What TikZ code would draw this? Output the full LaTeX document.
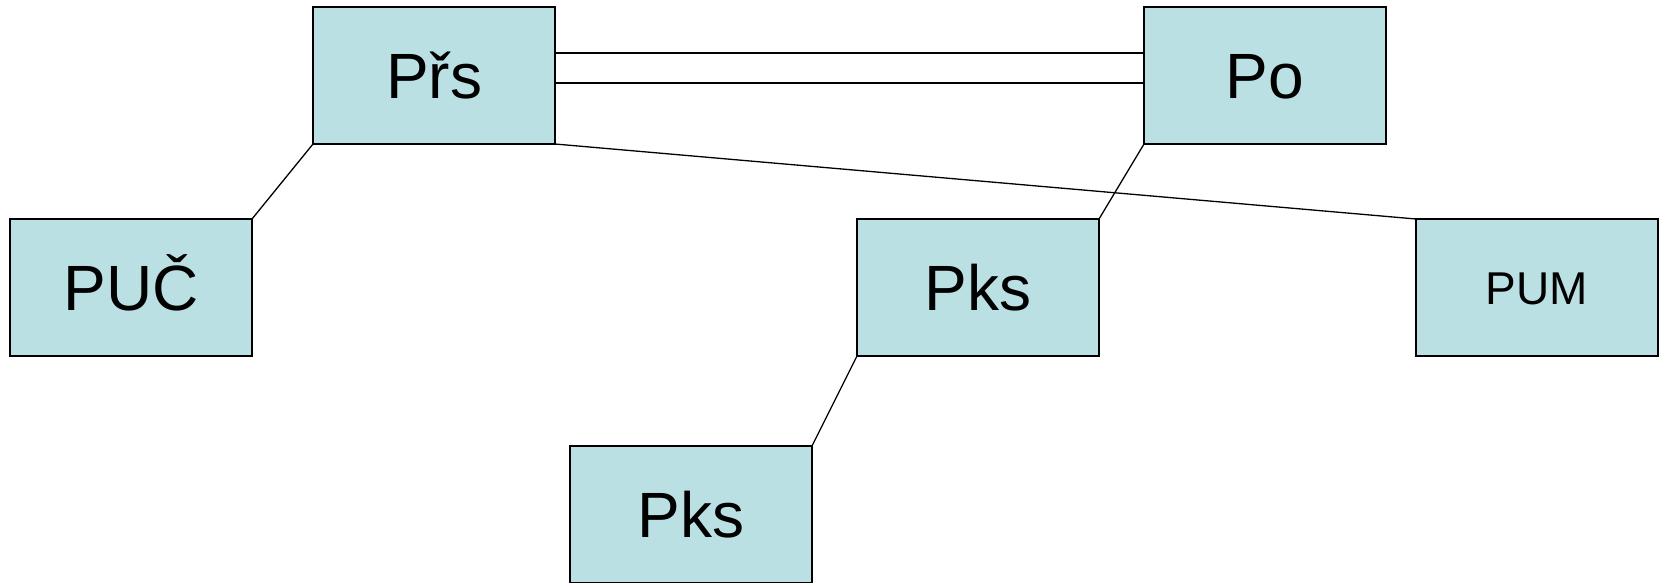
\documentclass[tikz,border=0pt]{standalone}
\usepackage{fontspec}
\setmainfont{Liberation Sans}
\definecolor{boxfill}{RGB}{187,224,227}
\begin{document}
\begin{tikzpicture}[x=1pt,y=-1pt,
  box/.style={draw=black, line width=1.6pt, fill=boxfill, rectangle, anchor=north west,
    minimum width=242pt, minimum height=137pt, inner sep=0pt, outer sep=0pt,
    text height=46pt, text depth=0pt,
    font=\fontsize{64}{64}\selectfont},
  smallbox/.style={box, text height=33pt, font=\fontsize{46}{46}\selectfont},
  link/.style={draw=black, line width=1.3pt}]
\useasboundingbox (0,0) rectangle (1665,582);
\fill[white] (0,0) rectangle (1665,582);
\node[box] (prs) at (313,7) {Přs};
\node[box] (po) at (1144,7) {Po};
\node[box] (puc) at (10,219) {PUČ};
\node[box] (pks1) at (857,219) {Pks};
\node[smallbox] (pum) at (1416,219) {PUM};
\node[box] (pks2) at (570,446) {Pks};
\draw[link] ([yshift=-46pt]prs.north east) -- ([yshift=-46pt]po.north west);
\draw[link] ([yshift=-76pt]prs.north east) -- ([yshift=-76pt]po.north west);
\draw[link] (prs.south west) -- (puc.north east);
\draw[link] (prs.south east) -- (pum.north west);
\draw[link] (po.south west) -- (pks1.north east);
\draw[link] (pks1.south west) -- (pks2.north east);
\end{tikzpicture}
\end{document}
